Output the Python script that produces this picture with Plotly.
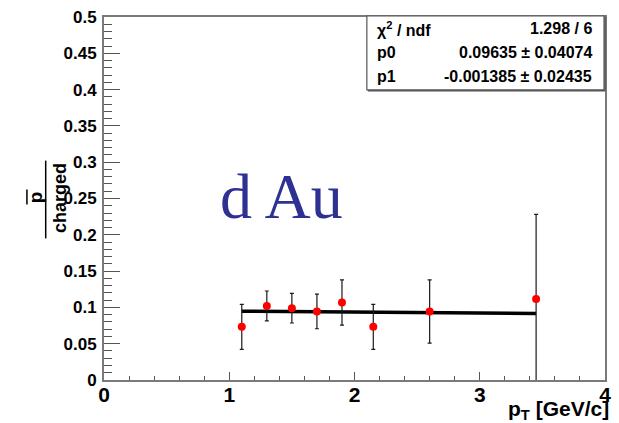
import plotly.graph_objects as go

# Ratio pbar / charged vs pT in d+Au, with a straight-line fit
pt = [1.1, 1.3, 1.5, 1.7, 1.9, 2.15, 2.6, 3.45]
ratio = [0.0732, 0.1020, 0.0989, 0.0944, 0.1067, 0.0732, 0.0944, 0.1117]
ratio_err = [0.0310, 0.0206, 0.0204, 0.0238, 0.0312, 0.0310, 0.0436, 0.1165]

# Fit results (pol1: p0 + p1 * pT)
chi2_ndf = "1.298 / 6"
p0, p0_err = 0.09635, 0.04074
p1, p1_err = -0.001385, 0.02435
fit_range = [1.1, 3.45]

x_ticks = [0, 1, 2, 3, 4]

W, H = 619, 423
L, R, T, B = 104, 8, 16, 43
PW, PH = W - L - R, H - T - B


def px(x):
    return (x - L) / PW


def py(y):
    return (H - B - y) / PH


BOLD = "Liberation Sans"
fig = go.Figure()

fit_x = fit_range
fit_y = [p0 + p1 * x for x in fit_x]
fig.add_trace(go.Scatter(
    x=fit_x, y=fit_y, mode="lines",
    line=dict(color="black", width=3.5), hoverinfo="skip", showlegend=False))

fig.add_trace(go.Scatter(
    x=pt, y=ratio, mode="markers",
    marker=dict(color="#ff0000", size=8, symbol="circle"),
    error_y=dict(type="data", array=ratio_err, visible=True,
                 color="#1a1a1a", thickness=1.2, width=2),
    showlegend=False))

axis_font = dict(family=BOLD, size=17, color="black", weight="bold")

fig.update_layout(
    width=W, height=H,
    margin=dict(l=L, r=R, t=T, b=B, pad=0),
    paper_bgcolor="white", plot_bgcolor="white",
    xaxis=dict(
        range=[0, 4], tickvals=x_ticks, ticktext=[str(v) for v in x_ticks],
        ticks="inside", ticklen=8, tickwidth=1, tickcolor="#555555",
        minor=dict(dtick=0.2, ticks="inside", ticklen=4, tickcolor="#555555"),
        showline=True, linecolor="#7a7a7a", linewidth=2, mirror=True,
        showgrid=False, zeroline=False,
        tickfont=dict(family=BOLD, size=21, color="black", weight="bold"),
        ticklabelstandoff=-5,
    ),
    yaxis=dict(
        range=[0, 0.5], dtick=0.05, tick0=0,
        ticks="inside", ticklen=16, tickwidth=1, tickcolor="#555555",
        minor=dict(dtick=0.01, ticks="inside", ticklen=8, tickcolor="#555555"),
        showline=True, linecolor="#7a7a7a", linewidth=2, mirror=True,
        showgrid=False, zeroline=False,
        tickfont=axis_font, ticklabelstandoff=2,
    ),
)

# Fit statistics box
bx0, by0, bx1, by1 = 370, 15, 610, 89
fig.add_shape(type="rect", xref="paper", yref="paper",
              x0=px(bx0), x1=px(bx1), y0=py(by1), y1=py(by0),
              line=dict(color="#555555", width=1.2), fillcolor="white", layer="above")
fig.add_shape(type="line", xref="paper", yref="paper",
              x0=px(bx1 + 1), x1=px(bx1 + 1), y0=py(by1 + 1), y1=py(by0 + 1),
              line=dict(color="#555555", width=1.5), layer="above")
fig.add_shape(type="line", xref="paper", yref="paper",
              x0=px(bx0 + 1), x1=px(bx1 + 1), y0=py(by1 + 1), y1=py(by1 + 1),
              line=dict(color="#555555", width=1.5), layer="above")

stat_font = dict(family=BOLD, size=16, color="black", weight="bold")
rows = [
    ("χ<sup>2</sup> / ndf", chi2_ndf),
    ("p0", f"{p0} ± {p0_err}"),
    ("p1", f"{p1} ± {p1_err}"),
]
row_y = [28, 52, 76]
for (lab, val), yy in zip(rows, row_y):
    fig.add_annotation(xref="paper", yref="paper", x=px(378), y=py(yy),
                       xanchor="left", yanchor="middle", text=lab,
                       showarrow=False, font=stat_font)
    fig.add_annotation(xref="paper", yref="paper", x=px(600), y=py(yy),
                       xanchor="right", yanchor="middle", text=val,
                       showarrow=False, font=stat_font)

# System label
fig.add_annotation(xref="paper", yref="paper", x=px(284), y=py(196),
                   xanchor="center", yanchor="middle", text="d Au",
                   showarrow=False,
                   font=dict(family="Liberation Serif", size=64, color="#2e3192"))

# x-axis title
fig.add_annotation(xref="paper", yref="paper", x=px(617), y=py(425),
                   xanchor="right", yanchor="bottom",
                   text="p<sub>T</sub> [GeV/c]", showarrow=False,
                   font=dict(family=BOLD, size=21, color="black", weight="bold"))

# y-axis title: pbar over charged, rotated
fig.add_annotation(xref="paper", yref="paper", x=px(35), y=py(197),
                   xanchor="center", yanchor="middle", text="p", textangle=-90,
                   showarrow=False,
                   font=dict(family=BOLD, size=19, color="black", weight="bold"))
fig.add_shape(type="line", xref="paper", yref="paper",
              x0=px(26), x1=px(26), y0=py(189), y1=py(204),
              line=dict(color="black", width=1.5))
fig.add_shape(type="line", xref="paper", yref="paper",
              x0=px(45), x1=px(45), y0=py(160), y1=py(238),
              line=dict(color="black", width=1.5))
fig.add_annotation(xref="paper", yref="paper", x=px(59), y=py(198),
                   xanchor="center", yanchor="middle", text="charged", textangle=-90,
                   showarrow=False,
                   font=dict(family=BOLD, size=18, color="black", weight="bold"))

fig.write_html("out.html")
